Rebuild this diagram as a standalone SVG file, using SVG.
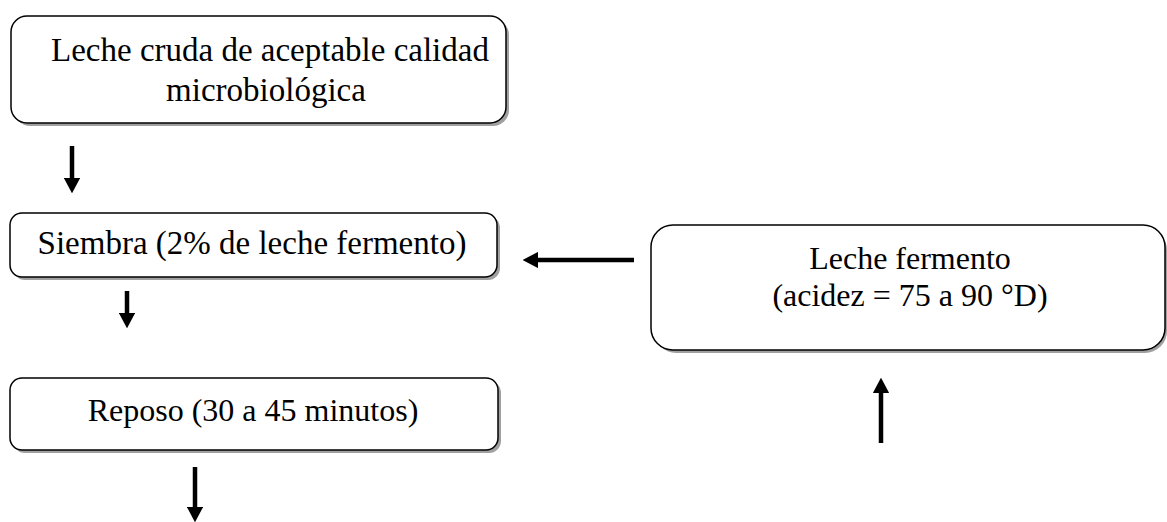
<svg xmlns="http://www.w3.org/2000/svg" width="1167" height="522" viewBox="0 0 1167 522">
<style>
.box{fill:#fff;stroke:#000;stroke-width:1.5}
.sh{fill:#a0a0a0}
.t{font-family:'Liberation Serif','Times New Roman',serif;font-size:33px;fill:#000;text-anchor:middle}
.t2{font-size:32px}
.ln{stroke:#000;stroke-width:4.5;fill:none}
</style>
<defs>
<marker id="ah" markerWidth="3.4" markerHeight="3.6" refX="0" refY="1.8" orient="auto" markerUnits="strokeWidth">
<path d="M0,0 L3.4,1.8 L0,3.6 Z" fill="#000"/>
</marker>
</defs>
<rect width="1167" height="522" fill="#fff"/>
<g id="n1">
<rect class="sh" x="14" y="19" width="495" height="107" rx="16"/>
<rect class="box" x="11" y="16" width="495" height="107" rx="16"/>
<text class="t" x="270" y="61">Leche cruda de aceptable calidad</text>
<text class="t" x="266" y="101">microbiológica</text>
</g>
<g id="n2">
<rect class="sh" x="13" y="216" width="487" height="64" rx="12"/>
<rect class="box" x="10" y="213" width="487" height="64" rx="12"/>
<text class="t" x="252" y="254">Siembra (2% de leche fermento)</text>
</g>
<g id="n3">
<rect class="sh" x="13" y="381" width="488" height="72" rx="12"/>
<rect class="box" x="10" y="378" width="488" height="72" rx="12"/>
<text class="t t2" x="253" y="421">Reposo (30 a 45 minutos)</text>
</g>
<g id="n4">
<rect class="sh" x="654" y="228" width="513" height="125" rx="22"/>
<rect class="box" x="651" y="225" width="514" height="125" rx="22"/>
<text class="t t2" x="910" y="269">Leche fermento</text>
<text class="t t2" x="910" y="306">(acidez = 75 a 90 °D)</text>
</g>
<g id="connectors">
<line class="ln" x1="72" y1="146" x2="72" y2="178" marker-end="url(#ah)"/>
<line class="ln" x1="127" y1="291" x2="127" y2="313" marker-end="url(#ah)"/>
<line class="ln" x1="195" y1="467" x2="195" y2="507" marker-end="url(#ah)"/>
<line class="ln" x1="634" y1="260" x2="538" y2="260" marker-end="url(#ah)"/>
<line class="ln" x1="881" y1="443" x2="881" y2="393" marker-end="url(#ah)"/>
</g>
</svg>
